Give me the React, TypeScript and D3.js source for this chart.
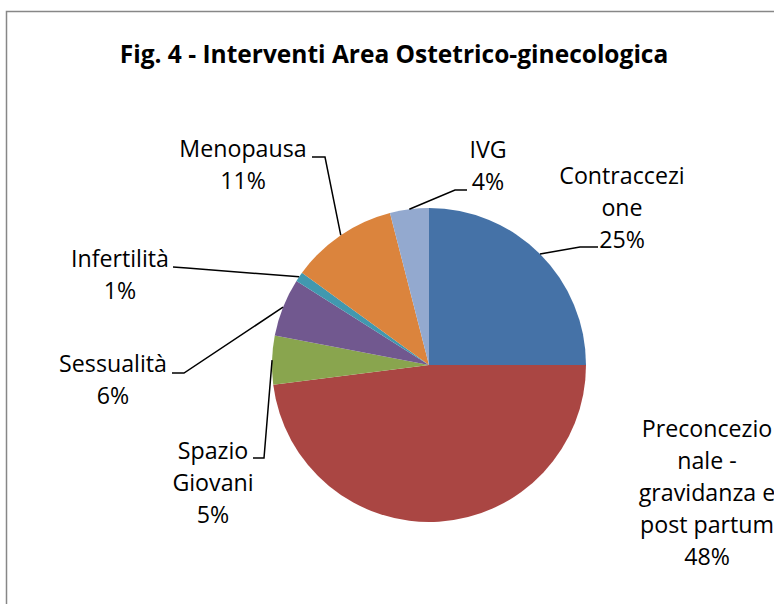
import React from "react";
import * as d3 from "d3";

const categories = [
  "Contraccezione",
  "Preconcezionale - gravidanza e post partum",
  "Spazio Giovani",
  "Sessualità",
  "Infertilità",
  "Menopausa",
  "IVG",
];
const values = [25, 48, 5, 6, 1, 11, 4];
const percentLabels = ["25%", "48%", "5%", "6%", "1%", "11%", "4%"];
const labelLines = [
  ["Contraccezi", "one", "25%"],
  ["Preconcezio", "nale -", "gravidanza e", "post partum", "48%"],
  ["Spazio", "Giovani", "5%"],
  ["Sessualità", "6%"],
  ["Infertilità", "1%"],
  ["Menopausa", "11%"],
  ["IVG", "4%"],
];
const colors = ["#4572A7", "#AA4643", "#89A54E", "#71588F", "#4198AF", "#DB843D", "#93A9CF"];
const title = "Fig. 4 - Interventi Area Ostetrico-ginecologica";

// layout of data labels (Excel placement): text centre x, first baseline y,
// leader attach point and elbow (null = no leader)
const labelLayout: { cx: number; y: number; attach: [number, number] | null; elbow: [number, number] | null }[] = [
  { cx: 622, y: 184, attach: [598, 247], elbow: [580, 247] },
  { cx: 707, y: 437, attach: null, elbow: null },
  { cx: 213, y: 459, attach: [253, 458], elbow: [264, 458] },
  { cx: 113, y: 372, attach: [172, 373], elbow: [184, 373] },
  { cx: 120, y: 267, attach: [173, 267], elbow: [187, 268] },
  { cx: 243, y: 157, attach: [312, 157], elbow: [325, 157] },
  { cx: 488, y: 158, attach: [467, 190], elbow: [455, 190] },
];

const W = 774;
const H = 604;
const cx = 429;
const cy = 365;
const R = 157;
const lineH = 32;

export default function App() {
  const pie = d3
    .pie<number>()
    .sort(null)
    .value((d) => d)(values);
  const arc = d3.arc<d3.PieArcDatum<number>>().innerRadius(0).outerRadius(R);
  const font = "'Open Sans', 'Noto Sans', sans-serif";

  return (
    <svg
      width={W}
      height={H}
      viewBox={`0 0 ${W} ${H}`}
      style={{ position: "absolute", left: 0, top: 0, background: "#fff" }}
    >
      <rect x={6.5} y={11.5} width={W + 20} height={H + 20} fill="#fff" stroke="#878787" strokeWidth={1.5} />
      <text
        x={394}
        y={63}
        textAnchor="middle"
        fontFamily={font}
        fontWeight={700}
        fontSize={24.5}
        fill="#000"
      >
        {title}
      </text>
      <g transform={`translate(${cx},${cy})`}>
        {pie.map((p, i) => (
          <path key={categories[i]} d={arc(p) || ""} fill={colors[i]} />
        ))}
      </g>
      {pie.map((p, i) => {
        const L = labelLayout[i];
        if (!L.attach || !L.elbow) return null;
        const mid = (p.startAngle + p.endAngle) / 2;
        const ex = cx + R * Math.sin(mid);
        const ey = cy - R * Math.cos(mid);
        const pts: [number, number][] = [L.attach, L.elbow, [ex, ey]];
        return (
          <path
            key={"l" + i}
            d={d3.line()(pts) || ""}
            fill="none"
            stroke="#000"
            strokeWidth={1.5}
          />
        );
      })}
      {labelLines.map((lines, i) => (
        <text
          key={"t" + i}
          x={labelLayout[i].cx}
          y={labelLayout[i].y}
          textAnchor="middle"
          fontFamily={font}
          fontSize={23.2}
          fill="#000"
        >
          {lines.map((s, j) => (
            <tspan key={j} x={labelLayout[i].cx} y={labelLayout[i].y + j * lineH}>
              {s}
            </tspan>
          ))}
        </text>
      ))}
      <desc>{percentLabels.join(",")}</desc>
    </svg>
  );
}
